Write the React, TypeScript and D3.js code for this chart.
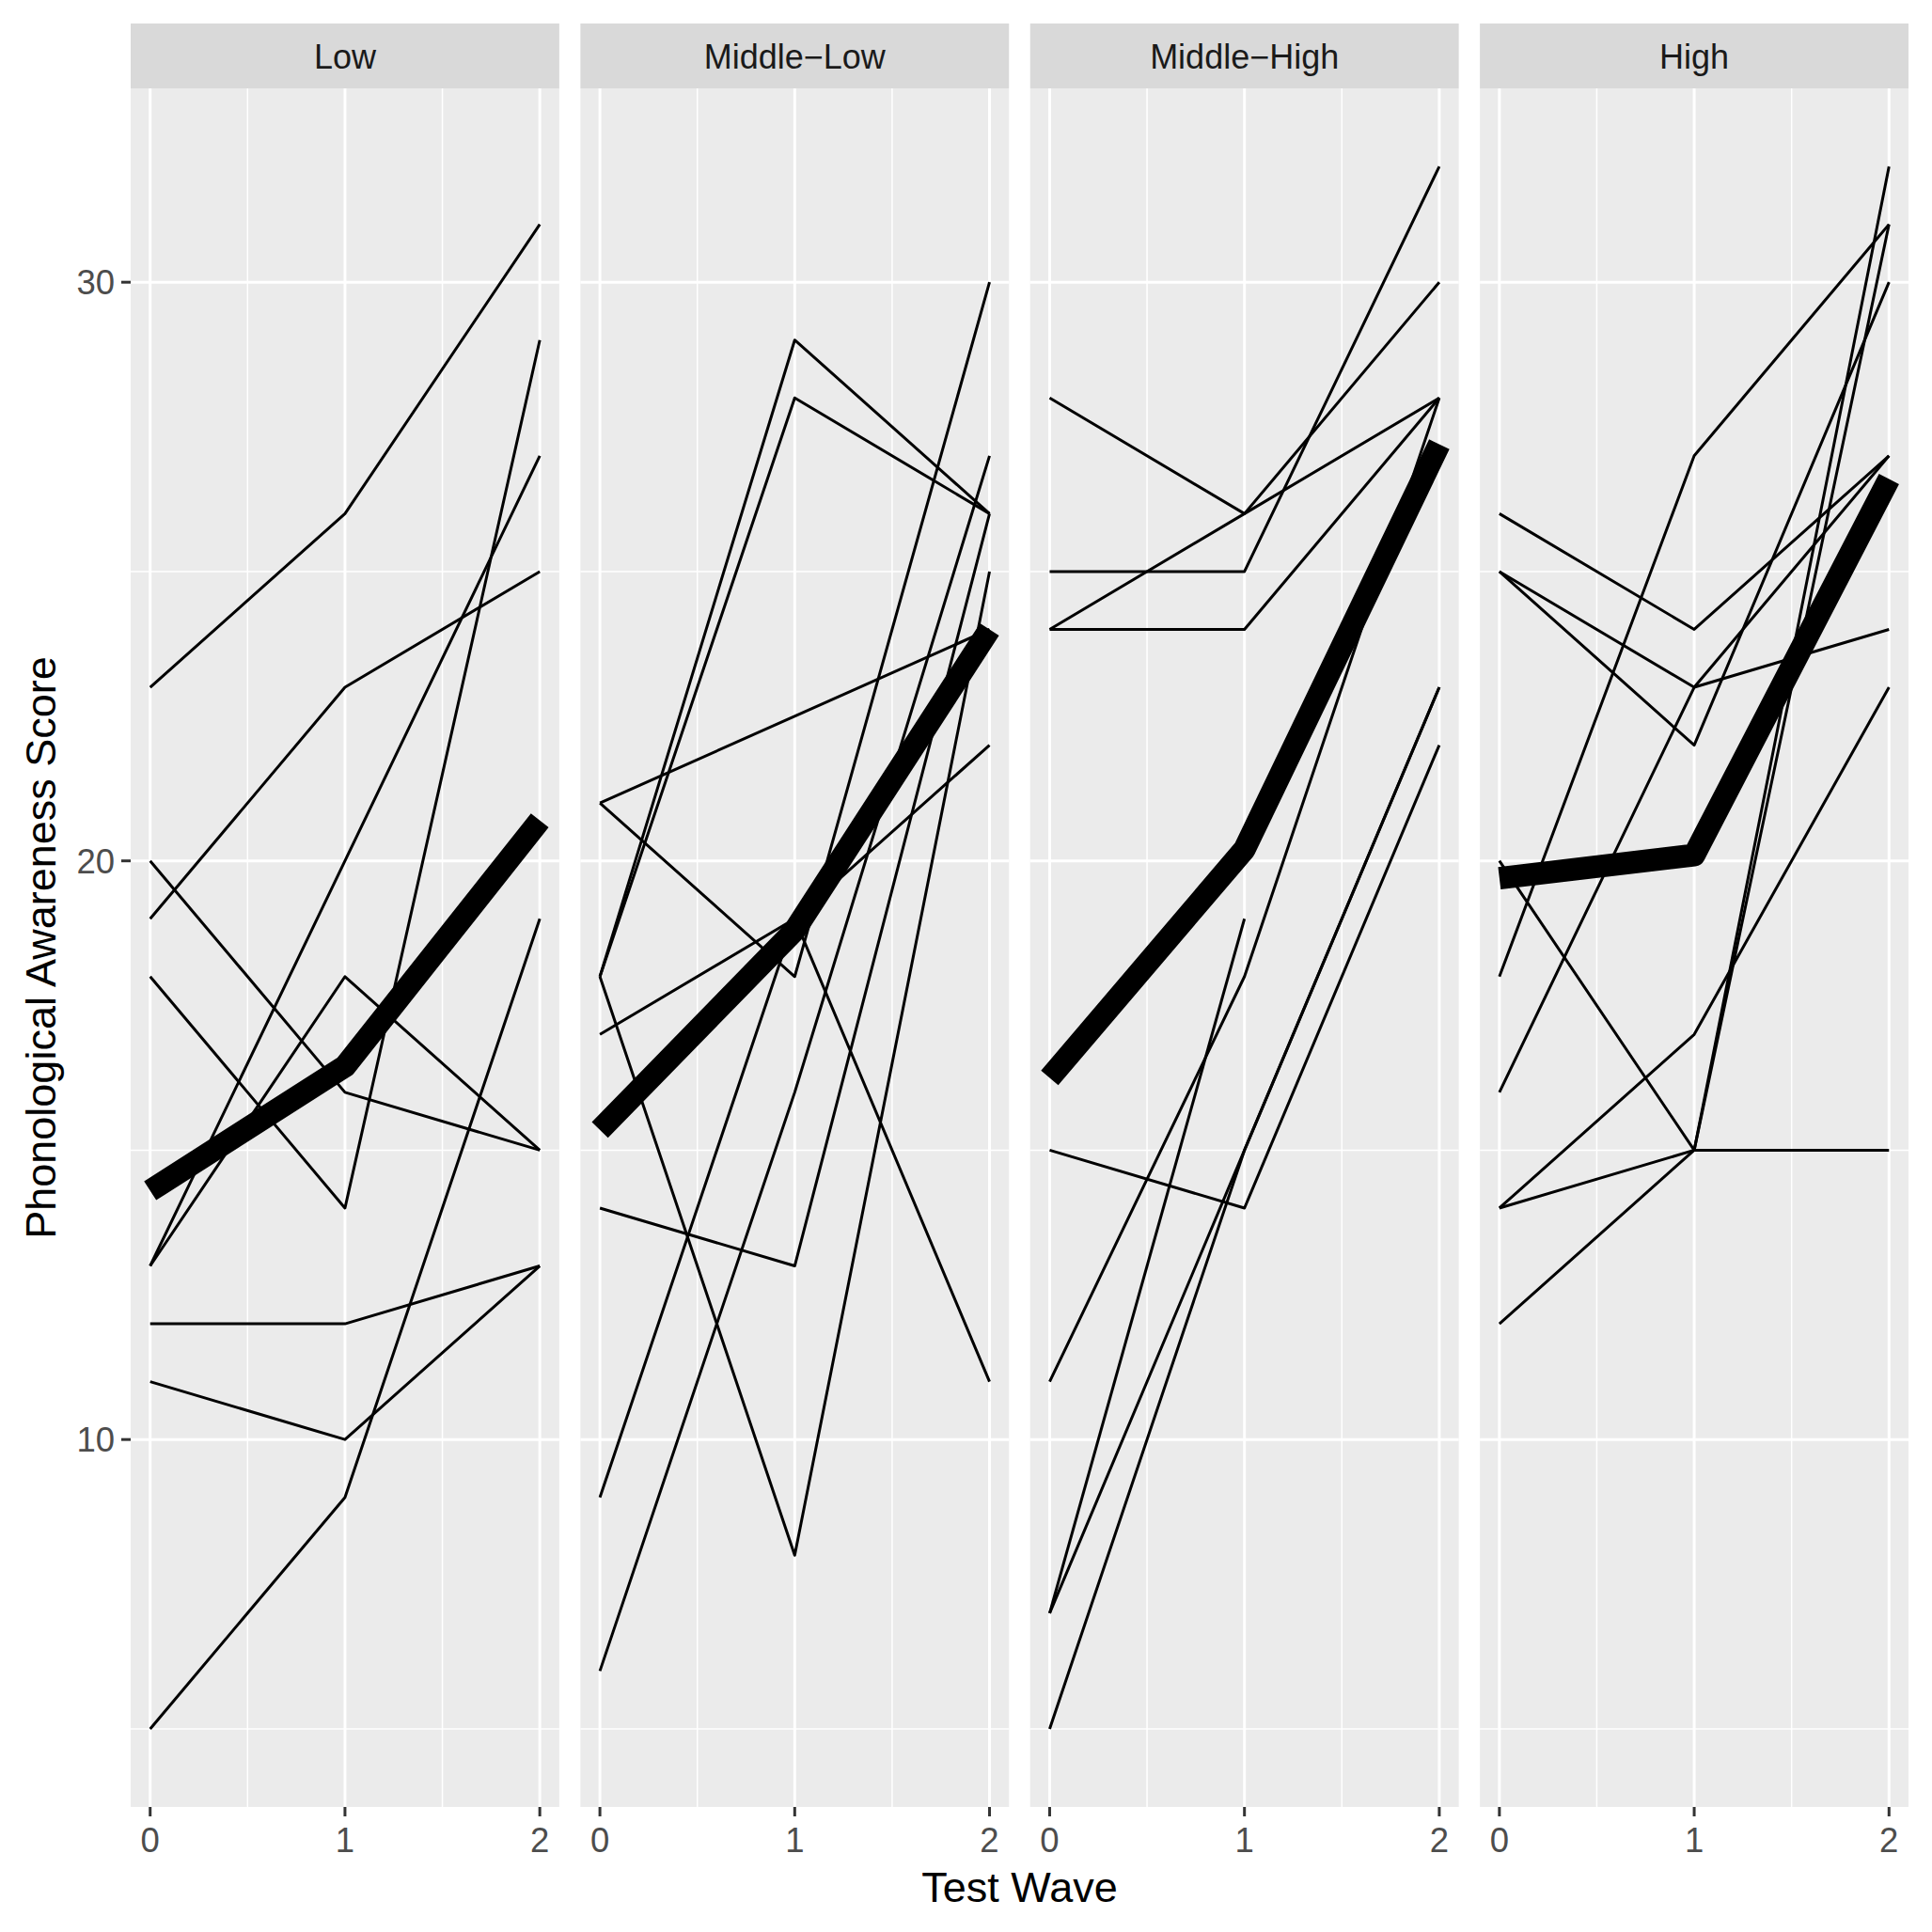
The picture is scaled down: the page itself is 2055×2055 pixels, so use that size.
import * as d3 from "d3";

// one row per child: scores at test wave 0, 1, 2 (null = missing)
const panelNames = ["Low", "Middle\u2212Low", "Middle\u2212High", "High"];
const waves = [0, 1, 2];

const lowScores = [
  [23, 26, 31],
  [19, 23, 25],
  [20, 16, 15],
  [18, 14, 29],
  [13, 18, 15],
  [13, 20, 27],
  [12, 12, 13],
  [11, 10, 13],
  [5, 9, 19],
];
const middleLowScores = [
  [18, 29, 26],
  [18, 28, 26],
  [18, 8, 25],
  [21, null, 24],
  [21, 18, 30],
  [17, 19, 22],
  [14, 13, 26],
  [9, 19, 11],
  [6, 16, 27],
];
const middleHighScores = [
  [28, 26, 30],
  [24, 26, 28],
  [25, 25, 32],
  [24, 24, 28],
  [15, 14, 22],
  [11, 18, 28],
  [7, 19, null],
  [7, 15, 23],
  [5, 15, 23],
];
const highScores = [
  [26, 24, 27],
  [25, 23, 24],
  [25, 22, 30],
  [18, 27, 31],
  [16, 23, 27],
  [14, 17, 23],
  [20, 15, 15],
  [14, 15, 32],
  [12, 15, 31],
];
// group average (thick line)
const groupMeans = [
  [14.3, 16.45, 20.7],
  [15.35, 18.8, 24.0],
  [16.25, 20.2, 27.2],
  [19.7, 20.1, 26.6],
];

const yBreaks = [10, 20, 30];
const yMinorBreaks = [5, 15, 25];
const xMinorBreaks = [0.5, 1.5];

const W = 2055;
const H = 2055;
const plotLeft = 139;
const plotRight = 2030;
const stripTop = 25;
const stripH = 69;
const panelTop = stripTop + stripH;
const panelBottom = 1922;
const panelGap = 22.5;

const FONT = "'Liberation Sans', Arial, Helvetica, sans-serif";

type Pt = [number, number];

export default function App() {
  const groups = [lowScores, middleLowScores, middleHighScores, highScores];
  const allValues = groups.flat(2).filter((v): v is number => v != null);
  const [lo, hi] = d3.extent(allValues) as [number, number];
  const pad = (hi - lo) * 0.05;

  const y = d3
    .scaleLinear()
    .domain([lo - pad, hi + pad])
    .range([panelBottom, panelTop]);

  const panelW = (plotRight - plotLeft - panelGap * 3) / 4;
  const x = d3.scaleLinear().domain([-0.1, 2.1]).range([0, panelW]);

  const line = d3
    .line<Pt>()
    .x((d) => x(d[0]))
    .y((d) => y(d[1]));

  const toPoints = (row: (number | null)[]): Pt[] =>
    waves
      .map((w, i) => [w, row[i]] as [number, number | null])
      .filter((p): p is Pt => p[1] != null);

  const panelH = panelBottom - panelTop;

  return (
    <div style={{ position: "absolute", left: 0, top: 0 }}>
      <svg width={W} height={H} style={{ display: "block", background: "#fff" }}>
        <defs>
          {panelNames.map((_, i) => (
            <clipPath id={`clip-${i}`} key={i}>
              <rect x={0} y={panelTop} width={panelW} height={panelH} />
            </clipPath>
          ))}
        </defs>

        {panelNames.map((name, i) => {
          const left = plotLeft + i * (panelW + panelGap);
          return (
            <g key={name} transform={`translate(${left},0)`}>
              {/* strip */}
              <rect x={0} y={stripTop} width={panelW} height={stripH} fill="#D9D9D9" />
              <text
                x={panelW / 2}
                y={stripTop + stripH / 2 + 13}
                textAnchor="middle"
                fontFamily={FONT}
                fontSize={36}
                fill="#1A1A1A"
              >
                {name}
              </text>

              {/* panel background + grid */}
              <rect x={0} y={panelTop} width={panelW} height={panelH} fill="#EBEBEB" />
              {yMinorBreaks.map((v) => (
                <line key={`ym${v}`} x1={0} x2={panelW} y1={y(v)} y2={y(v)} stroke="#fff" strokeWidth={1.5} />
              ))}
              {xMinorBreaks.map((v) => (
                <line key={`xm${v}`} x1={x(v)} x2={x(v)} y1={panelTop} y2={panelBottom} stroke="#fff" strokeWidth={1.5} />
              ))}
              {yBreaks.map((v) => (
                <line key={`y${v}`} x1={0} x2={panelW} y1={y(v)} y2={y(v)} stroke="#fff" strokeWidth={3} />
              ))}
              {waves.map((v) => (
                <line key={`x${v}`} x1={x(v)} x2={x(v)} y1={panelTop} y2={panelBottom} stroke="#fff" strokeWidth={3} />
              ))}

              {/* data */}
              <g clipPath={`url(#clip-${i})`}>
                {groups[i].map((row, j) => (
                  <path
                    key={j}
                    d={line(toPoints(row)) ?? ""}
                    fill="none"
                    stroke="#000"
                    strokeWidth={3}
                    strokeLinejoin="round"
                    strokeLinecap="butt"
                  />
                ))}
                <path
                  d={line(toPoints(groupMeans[i])) ?? ""}
                  fill="none"
                  stroke="#000"
                  strokeWidth={24}
                  strokeLinejoin="round"
                  strokeLinecap="butt"
                />
              </g>

              {/* x axis */}
              {waves.map((v) => (
                <g key={`xt${v}`}>
                  <line x1={x(v)} x2={x(v)} y1={panelBottom} y2={panelBottom + 10} stroke="#333333" strokeWidth={3} />
                  <text
                    x={x(v)}
                    y={panelBottom + 48}
                    textAnchor="middle"
                    fontFamily={FONT}
                    fontSize={36.5}
                    fill="#4D4D4D"
                  >
                    {v}
                  </text>
                </g>
              ))}

              {/* y axis on first panel only */}
              {i === 0 &&
                yBreaks.map((v) => (
                  <g key={`yt${v}`}>
                    <line x1={-10} x2={0} y1={y(v)} y2={y(v)} stroke="#333333" strokeWidth={3} />
                    <text
                      x={-17}
                      y={y(v) + 13}
                      textAnchor="end"
                      fontFamily={FONT}
                      fontSize={36.5}
                      fill="#4D4D4D"
                    >
                      {v}
                    </text>
                  </g>
                ))}
            </g>
          );
        })}

        {/* axis titles */}
        <text
          x={(plotLeft + plotRight) / 2}
          y={2023}
          textAnchor="middle"
          fontFamily={FONT}
          fontSize={45}
          fill="#000"
        >
          Test Wave
        </text>
        <text
          transform={`translate(59,${(panelTop + panelBottom) / 2}) rotate(-90)`}
          textAnchor="middle"
          fontFamily={FONT}
          fontSize={45}
          fill="#000"
        >
          Phonological Awareness Score
        </text>
      </svg>
    </div>
  );
}
